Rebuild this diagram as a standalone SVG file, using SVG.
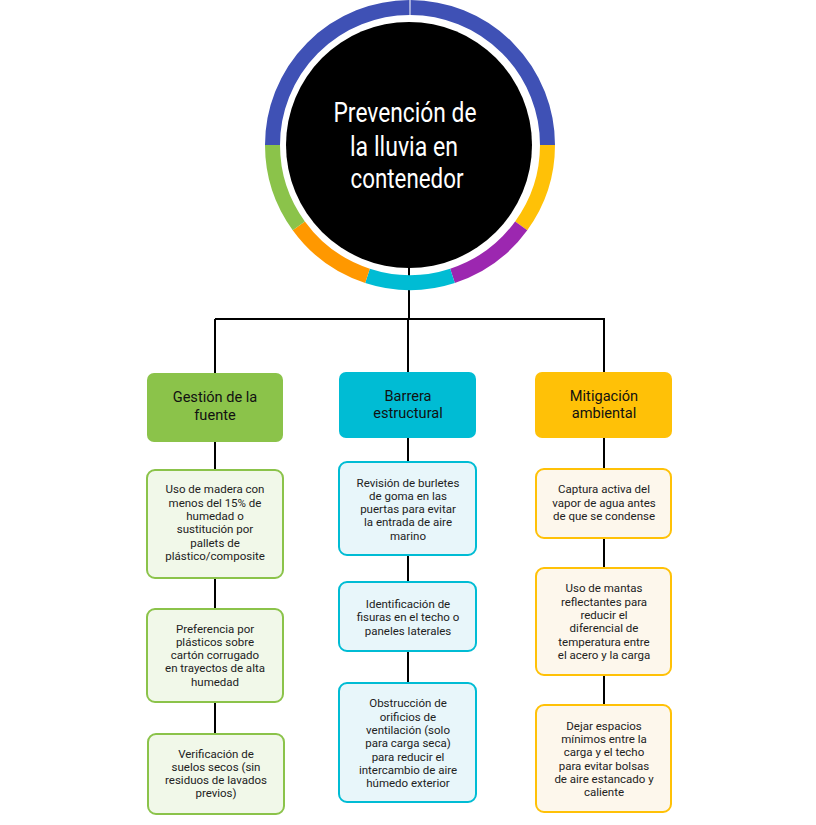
<svg xmlns="http://www.w3.org/2000/svg" width="816" height="825" viewBox="0 0 816 825">
<style>
.ring{fill:none;stroke-width:15}
.conn{fill:none;stroke:#000;stroke-width:2}
.title{font-family:Roboto,"Liberation Sans",sans-serif;font-size:27px;fill:#fff;text-anchor:middle}
.hdr{font-family:Roboto,"Liberation Sans",sans-serif;font-size:14.6px;fill:#111;text-anchor:middle}
.sub{font-family:Roboto,"Liberation Sans",sans-serif;font-size:11.5px;fill:#222;text-anchor:middle}
.g{fill:#F1F8E9;stroke:#8BC34A;stroke-width:2}
.c{fill:#E8F6FA;stroke:#00BCD4;stroke-width:2}
.y{fill:#FDF7EC;stroke:#FFC107;stroke-width:2}
</style>
<rect width="816" height="825" fill="#fff"/>
<g id="connectors">
<path class="conn" d="M409 267V319M215 319H605M215 319V373M408 319V372M604 319V372"/>
<path class="conn" d="M215 442V470M215 578V609M215 702V734"/>
<path class="conn" d="M408 438V462M408 555V582M408 651V683"/>
<path class="conn" d="M604 438V469M604 538V568M604 675V705"/>
</g>
<g id="center">
<path class="ring" stroke="#3F51B5" d="M272.5 145A137.5 137.5 0 0 1 409.5 7.5"/>
<path class="ring" stroke="#3F51B5" d="M410.5 7.5A137.5 137.5 0 0 1 547.5 145"/>
<path class="ring" stroke="#FFC107" d="M547.5 145A137.5 137.5 0 0 1 521.2 225.8"/>
<path class="ring" stroke="#9C27B0" d="M521.2 225.8A137.5 137.5 0 0 1 452.5 275.8"/>
<path class="ring" stroke="#00BCD4" d="M452.5 275.8A137.5 137.5 0 0 1 367.5 275.8"/>
<path class="ring" stroke="#FF9800" d="M367.5 275.8A137.5 137.5 0 0 1 298.8 225.8"/>
<path class="ring" stroke="#8BC34A" d="M298.8 225.8A137.5 137.5 0 0 1 272.5 145"/>
<circle cx="409" cy="145" r="123" fill="#000"/>
<text class="title" x="405" y="122" textLength="143" lengthAdjust="spacingAndGlyphs">Prevención de</text>
<text class="title" x="404" y="156" textLength="108" lengthAdjust="spacingAndGlyphs">la lluvia en</text>
<text class="title" x="407" y="188" textLength="113" lengthAdjust="spacingAndGlyphs">contenedor</text>
</g>
<g id="h1">
<rect x="147" y="373" width="136" height="69" rx="7" fill="#8BC34A"/>
<text class="hdr" x="215" y="402">Gestión de la</text>
<text class="hdr" x="215" y="420">fuente</text>
</g>
<g id="h2">
<rect x="339" y="372" width="137" height="66" rx="7" fill="#00BCD4"/>
<text class="hdr" x="408" y="401">Barrera</text>
<text class="hdr" x="408" y="418">estructural</text>
</g>
<g id="h3">
<rect x="535" y="372" width="137" height="66" rx="7" fill="#FFC107"/>
<text class="hdr" x="604" y="401">Mitigación</text>
<text class="hdr" x="604" y="418">ambiental</text>
</g>
<g id="g1">
<rect class="g" x="147" y="470" width="136" height="108" rx="8"/>
<text class="sub" x="215" y="493">Uso de madera con</text>
<text class="sub" x="215" y="506.5">menos del 15% de</text>
<text class="sub" x="215" y="519.5">humedad o</text>
<text class="sub" x="215" y="533">sustitución por</text>
<text class="sub" x="215" y="546.5">pallets de</text>
<text class="sub" x="215" y="559.5">plástico/composite</text>
</g>
<g id="g2">
<rect class="g" x="147" y="609" width="136" height="93" rx="8"/>
<text class="sub" x="215" y="633">Preferencia por</text>
<text class="sub" x="215" y="646">plásticos sobre</text>
<text class="sub" x="215" y="659">cartón corrugado</text>
<text class="sub" x="215" y="672">en trayectos de alta</text>
<text class="sub" x="215" y="685.5">humedad</text>
</g>
<g id="g3">
<rect class="g" x="148" y="734" width="136" height="80" rx="8"/>
<text class="sub" x="216" y="758">Verificación de</text>
<text class="sub" x="216" y="771">suelos secos (sin</text>
<text class="sub" x="216" y="784">residuos de lavados</text>
<text class="sub" x="216" y="797">previos)</text>
</g>
<g id="c1">
<rect class="c" x="339" y="462" width="137" height="93" rx="8"/>
<text class="sub" x="408" y="486.5">Revisión de burletes</text>
<text class="sub" x="408" y="500">de goma en las</text>
<text class="sub" x="408" y="513">puertas para evitar</text>
<text class="sub" x="408" y="526">la entrada de aire</text>
<text class="sub" x="408" y="539.5">marino</text>
</g>
<g id="c2">
<rect class="c" x="339" y="582" width="137" height="69" rx="8"/>
<text class="sub" x="408" y="608">Identificación de</text>
<text class="sub" x="408" y="621">fisuras en el techo o</text>
<text class="sub" x="408" y="634.5">paneles laterales</text>
</g>
<g id="c3">
<rect class="c" x="339" y="683" width="137" height="119" rx="8"/>
<text class="sub" x="408" y="707">Obstrucción de</text>
<text class="sub" x="408" y="720.5">orificios de</text>
<text class="sub" x="408" y="734">ventilación (solo</text>
<text class="sub" x="408" y="747">para carga seca)</text>
<text class="sub" x="408" y="760.5">para reducir el</text>
<text class="sub" x="408" y="774">intercambio de aire</text>
<text class="sub" x="408" y="787">húmedo exterior</text>
</g>
<g id="y1">
<rect class="y" x="536" y="469" width="135" height="69" rx="8"/>
<text class="sub" x="604" y="493">Captura activa del</text>
<text class="sub" x="604" y="506.5">vapor de agua antes</text>
<text class="sub" x="604" y="520">de que se condense</text>
</g>
<g id="y2">
<rect class="y" x="536" y="568" width="135" height="107" rx="8"/>
<text class="sub" x="604" y="592">Uso de mantas</text>
<text class="sub" x="604" y="605.5">reflectantes para</text>
<text class="sub" x="604" y="619">reducir el</text>
<text class="sub" x="604" y="632">diferencial de</text>
<text class="sub" x="604" y="645.5">temperatura entre</text>
<text class="sub" x="604" y="659">el acero y la carga</text>
</g>
<g id="y3">
<rect class="y" x="536" y="705" width="135" height="107" rx="8"/>
<text class="sub" x="604" y="729.5">Dejar espacios</text>
<text class="sub" x="604" y="743">mínimos entre la</text>
<text class="sub" x="604" y="756">carga y el techo</text>
<text class="sub" x="604" y="769.5">para evitar bolsas</text>
<text class="sub" x="604" y="783">de aire estancado y</text>
<text class="sub" x="604" y="796">caliente</text>
</g>
</svg>
